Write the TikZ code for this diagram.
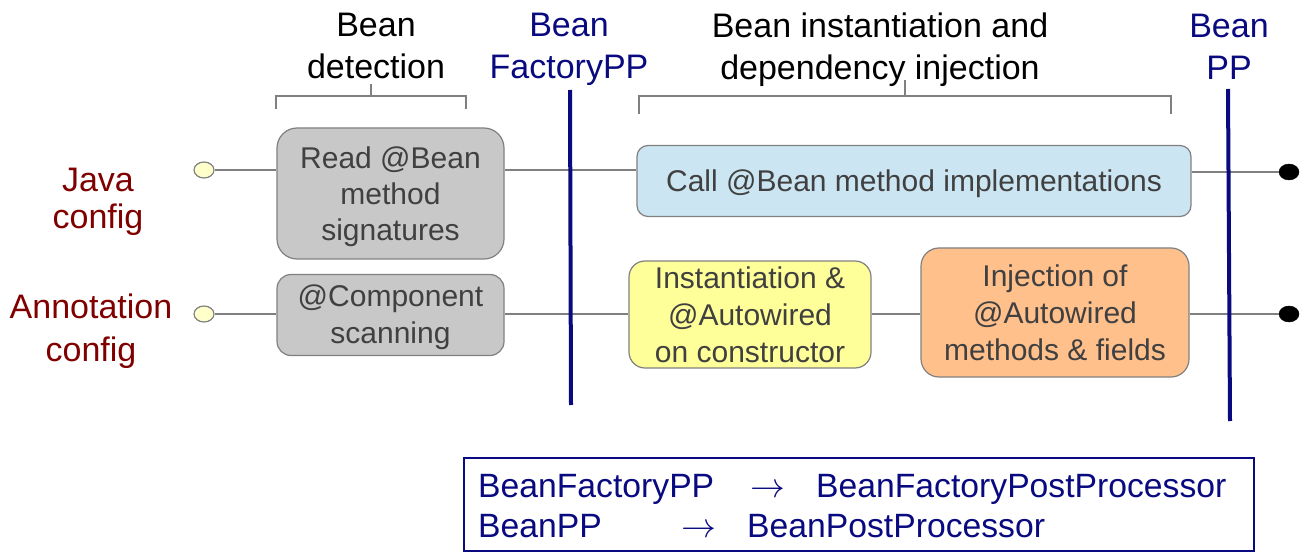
\documentclass[tikz,border=0pt]{standalone}
\usepackage{graphicx}
\usepackage{fontspec}
\setmainfont{Liberation Sans}
\definecolor{navyc}{RGB}{10,10,128}
\definecolor{redc}{RGB}{128,0,0}
\definecolor{boxtext}{RGB}{64,64,64}
\definecolor{grayfill}{RGB}{200,200,200}
\definecolor{grayline}{RGB}{128,128,128}
\definecolor{bluefill}{RGB}{204,229,242}
\definecolor{yellowfill}{RGB}{255,255,153}
\definecolor{orangefill}{RGB}{255,192,140}
\definecolor{dotfill}{RGB}{255,255,204}
\usetikzlibrary{shapes.geometric}
\tikzset{
  x=1pt, y=-1pt,
  procbox/.style={draw=grayline, line width=1.2pt, text=boxtext, align=center,
    font=\fontsize{30}{37}\selectfont, inner sep=0pt},
  title/.style={align=center, font=\fontsize{34}{42}\selectfont, inner sep=0pt},
  navytitle/.style={title, text=navyc},
  sidelabel/.style={anchor=base, text=redc, font=\fontsize{34}{41}\selectfont, inner sep=0pt},
  conn/.style={draw=grayline, line width=1.3pt},
  brace/.style={draw=grayline, line width=1.3pt},
  phase/.style={draw=navyc, line width=4pt},
  startdot/.style={ellipse, draw=grayline, fill=dotfill, line width=1.2pt, minimum width=20pt, minimum height=16pt, inner sep=0pt},
  enddot/.style={ellipse, draw=black, fill=black, minimum width=20pt, minimum height=16pt, inner sep=0pt},
  legendtext/.style={anchor=base west, text=navyc, font=\fontsize{33.7}{40}\selectfont, inner sep=0pt},
  legendarrow/.style={anchor=base west, text=navyc, font=\fontsize{24.88}{30}\selectfont, inner sep=0pt},
}
\newcommand\legarrow{\scalebox{1.4}{$\rightarrow$}}
\begin{document}
\begin{tikzpicture}
\useasboundingbox (0,0) rectangle (1315,556);

% titles
\node[title] (tdet) at (376,46) {Bean\\detection};
\node[navytitle] (tbfpp) at (569,49) {Bean\\FactoryPP};
\node[title] (tinst) at (880,49.5) {Bean instantiation and\\dependency injection};
\node[navytitle] (tbpp) at (1229,46.5) {Bean\\PP};

% braces
\draw[brace] (276,109) -- (276,96) -- (466,96) -- (466,109);
\draw[brace] (371,96) -- (371,84);
\draw[brace] (639,114) -- (639,96) -- (1171,96) -- (1171,114);
\draw[brace] (905,96) -- (905,80);

% side labels
\node[sidelabel] (java1) at (98,192) {Java};
\node[sidelabel] (java2) at (98,229) {config};
\node[sidelabel] (anno1) at (91,318) {Annotation};
\node[sidelabel] (anno2) at (91,361) {config};

% start/end dots
\node[startdot] (s1) at (204,170) {};
\node[startdot] (s2) at (204,314) {};
\node[enddot] (e1) at (1289,172) {};
\node[enddot] (e2) at (1289,314) {};

% boxes
\node[procbox, fill=grayfill, rounded corners=20pt, minimum width=227pt, minimum height=131pt,
  font=\fontsize{30}{36.2}\selectfont, text depth=-4.5pt] (read) at (390.5,193.5) {Read @Bean\\method\\signatures};
\node[procbox, fill=grayfill, rounded corners=14pt, minimum width=227pt, minimum height=81pt,
  text depth=1pt] (comp) at (390.5,315) {@Component\\scanning};
\node[procbox, fill=bluefill, rounded corners=11pt, minimum width=554pt, minimum height=71pt,
  text depth=0.3pt] (call) at (914,181) {Call @Bean method implementations};
\node[procbox, fill=yellowfill, rounded corners=16pt, minimum width=242pt, minimum height=107pt] (inst) at (750,314.5) {Instantiation \&\\@Autowired\\on constructor};
\node[procbox, fill=orangefill, rounded corners=18pt, minimum width=268pt, minimum height=129pt] (inj) at (1055,312.5) {Injection of\\@Autowired\\methods \& fields};

% connectors row 1
\draw[conn] (s1.east) -- (s1 -| read.west);
\draw[conn] (s1 -| read.east) -- (s1 -| call.west);
\draw[conn] (e1 -| call.east) -- (e1.west);
% connectors row 2
\draw[conn] (s2.east) -- (s2 -| comp.west);
\draw[conn] (s2 -| comp.east) -- (s2 -| inst.west);
\draw[conn] (s2 -| inst.east) -- (s2 -| inj.west);
\draw[conn] (e2 -| inj.east) -- (e2.west);

% phase lines
\coordinate (p1t) at (570,90);
\coordinate (p1b) at (571,405);
\coordinate (p2t) at (1228,89);
\coordinate (p2b) at (1230,421);
\draw[phase] (p1t) -- (p1b);
\draw[phase] (p2t) -- (p2b);

% legend
\draw[draw=navyc, line width=1.5pt] (464,458) rectangle (1254,551);
\node[legendtext] (l1a) at (478,497) {BeanFactoryPP};
\node[legendarrow] (l1b) at (750,497) {\legarrow};
\node[legendtext] (l1c) at (816,497) {BeanFactoryPostProcessor};
\node[legendtext] (l2a) at (478,537) {BeanPP};
\node[legendarrow] (l2b) at (681,537) {\legarrow};
\node[legendtext] (l2c) at (747,537) {BeanPostProcessor};
\end{tikzpicture}
\end{document}
